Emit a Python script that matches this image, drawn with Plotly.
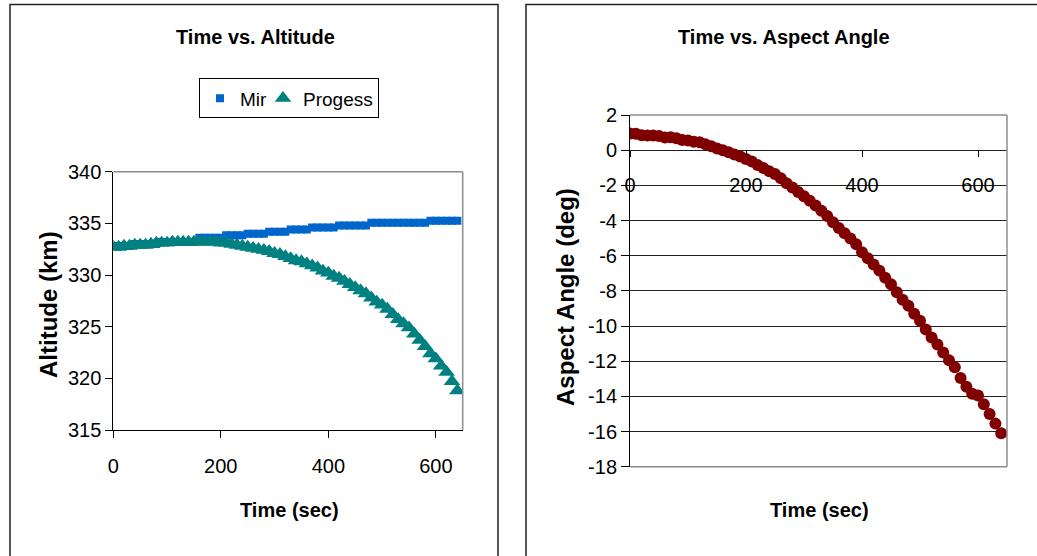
import plotly.graph_objects as go

W, H = 1037, 556

# ---------------- data ----------------
time_sec = [0, 10, 20, 30, 40, 50, 60, 70, 80, 90,
            100, 110, 120, 130, 140, 150, 160, 170, 180, 190,
            200, 210, 220, 230, 240, 250, 260, 270, 280, 290,
            300, 310, 320, 330, 340, 350, 360, 370, 380, 390,
            400, 410, 420, 430, 440, 450, 460, 470, 480, 490,
            500, 510, 520, 530, 540, 550, 560, 570, 580, 590,
            600, 610, 620, 630, 640]

mir_alt = [332.8, 332.8, 332.8, 332.8, 333.0, 333.0, 333.0, 333.0, 333.0, 333.2,
           333.2, 333.2, 333.2, 333.2, 333.2, 333.2, 333.6, 333.6, 333.6, 333.6,
           333.6, 333.85, 333.85, 333.85, 333.85, 334.0, 334.0, 334.0, 334.0, 334.2,
           334.2, 334.2, 334.2, 334.4, 334.4, 334.4, 334.4, 334.6, 334.6, 334.6,
           334.6, 334.6, 334.8, 334.8, 334.8, 334.8, 334.8, 334.8, 335.05, 335.05,
           335.05, 335.05, 335.05, 335.05, 335.05, 335.05, 335.05, 335.05, 335.05, 335.25,
           335.25, 335.25, 335.25, 335.25, 335.25]

progess_alt = [332.7, 332.7, 332.8, 332.8, 332.9, 332.9, 332.9, 333.0, 333.1, 333.1,
               333.1, 333.2, 333.2, 333.2, 333.2, 333.2, 333.2, 333.2, 333.2, 333.2,
               333.1, 333.1, 333.0, 332.9, 332.8, 332.7, 332.6, 332.5, 332.4, 332.3,
               332.1, 332.0, 331.8, 331.6, 331.4, 331.3, 331.1, 330.9, 330.7, 330.4,
               330.2, 329.9, 329.7, 329.4, 329.1, 328.8, 328.5, 328.2, 327.8, 327.4,
               327.1, 326.7, 326.2, 325.7, 325.3, 324.9, 324.3, 323.7, 323.1, 322.4,
               321.9, 321.2, 320.6, 319.7, 318.8]

aspect_deg = [0.95, 0.93, 0.85, 0.83, 0.84, 0.80, 0.72, 0.74, 0.68, 0.58,
              0.55, 0.48, 0.45, 0.33, 0.22, 0.10, 0.00, -0.12, -0.24, -0.36,
              -0.50, -0.65, -0.85, -1.02, -1.20, -1.35, -1.60, -1.88, -2.12, -2.38,
              -2.62, -2.88, -3.15, -3.45, -3.75, -4.10, -4.42, -4.72, -5.02, -5.35,
              -5.80, -6.15, -6.50, -6.85, -7.25, -7.62, -8.08, -8.50, -8.85, -9.30,
              -9.70, -10.20, -10.65, -11.05, -11.50, -11.95, -12.35, -12.95, -13.45, -13.85,
              -13.95, -14.45, -15.00, -15.55, -16.10]

x_ticks = [0, 200, 400, 600]
alt_ticks = [315, 320, 325, 330, 335, 340]
ang_ticks = [2, 0, -2, -4, -6, -8, -10, -12, -14, -16, -18]
ang_tick_text = ["2", "0", "-2", "-4", "-6", "-8", "-10", "-12", "-14", "-16", "-18"]

# ---------------- layout helpers ----------------
def px(x):
    return x / W

def py(y):
    return 1 - y / H

FONT = "Liberation Sans, Arial, sans-serif"
TICKF = dict(family=FONT, size=20, color="black")

fig = go.Figure()

fig.add_trace(go.Scatter(x=time_sec, y=mir_alt, mode="markers", name="Mir",
                         legendwidth=18,
                         marker=dict(symbol="square", size=8, color="#0066CC",
                                     line=dict(width=0)),
                         xaxis="x", yaxis="y"))
fig.add_trace(go.Scatter(x=time_sec, y=progess_alt, mode="markers", name="Progess",
                         marker=dict(symbol="triangle-up", size=14.5, color="#008080",
                                     line=dict(width=0)),
                         xaxis="x", yaxis="y"))
fig.add_trace(go.Scatter(x=time_sec, y=aspect_deg, mode="markers", name="Aspect",
                         showlegend=False,
                         marker=dict(symbol="circle", size=12, color="#800000",
                                     line=dict(width=0)),
                         xaxis="x2", yaxis="y2"))

L = dict(x0=113.3, x1=462.7, y0=171.7, y1=430.0)
R = dict(x0=630.0, x1=1007.0, y0=115.0, y1=466.7)
zero_y = 150.2

fig.update_layout(
    width=W, height=H,
    margin=dict(l=0, r=0, t=0, b=0),
    paper_bgcolor="white", plot_bgcolor="white",
    font=dict(family=FONT, color="black"),
    showlegend=True,
    legend=dict(orientation="h", x=px(289), y=py(78.3), xanchor="center", yanchor="top",
                bordercolor="black", borderwidth=1, bgcolor="white",
                font=dict(family=FONT, size=19, color="black"),
                itemwidth=30, tracegroupgap=0),
    xaxis=dict(domain=[px(L["x0"]), px(L["x1"])], range=[0, 650], tickvals=x_ticks,
               ticks="outside", ticklen=7, tickcolor="black", showline=True,
               linecolor="black", linewidth=1, showgrid=False, zeroline=False,
               tickfont=TICKF, anchor="y", ticklabelstandoff=11, automargin=False),
    yaxis=dict(domain=[py(L["y1"]), py(L["y0"])], range=[315, 340], tickvals=alt_ticks,
               ticks="outside", ticklen=7, tickcolor="black", showline=True,
               linecolor="black", linewidth=1, showgrid=False, zeroline=False,
               tickfont=TICKF, anchor="x", automargin=False),
    xaxis2=dict(domain=[px(R["x0"]), px(R["x1"])], range=[0, 650], tickvals=x_ticks,
                ticks="outside", ticklen=6, tickcolor="black", showline=False,
                showgrid=False, zeroline=False, tickfont=TICKF,
                anchor="free", position=py(zero_y), ticklabelstandoff=11,
                automargin=False),
    yaxis2=dict(domain=[py(R["y1"]), py(R["y0"])], range=[-18, 2], tickvals=ang_ticks,
                ticktext=ang_tick_text, ticks="outside", ticklen=8, tickcolor="black",
                showline=True, linecolor="black", linewidth=1, showgrid=True,
                gridcolor="#222222", gridwidth=1, zeroline=False, tickfont=TICKF,
                anchor="x2", automargin=False),
)

GRAY = "#8c8c8c"
shapes = [
    # outer panel frames (bottom edges fall outside the picture)
    dict(type="rect", xref="paper", yref="paper", x0=px(10), x1=px(498), y0=-0.3, y1=py(4.5),
         line=dict(color="#222222", width=1.5), fillcolor="rgba(0,0,0,0)", layer="below"),
    dict(type="rect", xref="paper", yref="paper", x0=px(526), x1=1.3, y0=-0.3, y1=py(4.5),
         line=dict(color="#222222", width=1.5), fillcolor="rgba(0,0,0,0)", layer="below"),
    # plot-area borders (top / right, and bottom on right chart)
    dict(type="line", xref="x domain", yref="y domain", x0=0, x1=1, y0=1, y1=1,
         line=dict(color=GRAY, width=1.5)),
    dict(type="line", xref="x domain", yref="y domain", x0=1, x1=1, y0=0, y1=1,
         line=dict(color=GRAY, width=1.5)),
    dict(type="line", xref="x2 domain", yref="y2 domain", x0=0, x1=1, y0=1, y1=1,
         line=dict(color=GRAY, width=1.5)),
    dict(type="line", xref="x2 domain", yref="y2 domain", x0=1, x1=1, y0=0, y1=1,
         line=dict(color=GRAY, width=1.5)),
    dict(type="line", xref="x2 domain", yref="y2 domain", x0=0, x1=1, y0=0, y1=0,
         line=dict(color=GRAY, width=1.5)),
]
fig.update_layout(shapes=shapes)

BOLD = dict(family=FONT, size=20, color="black")
BOLDV = dict(family=FONT, size=24, color="black")
ann = [
    dict(text="<b>Time vs. Altitude</b>", x=px(255), y=py(37), font=BOLD),
    dict(text="<b>Time vs. Aspect Angle</b>", x=px(784), y=py(37), font=BOLD),
    dict(text="<b>Time (sec)</b>", x=px(289), y=py(510), font=BOLD),
    dict(text="<b>Time (sec)</b>", x=px(819), y=py(510), font=BOLD),
    dict(text="<b>Altitude (km)</b>", x=px(48), y=py(305), textangle=-90, font=BOLDV),
    dict(text="<b>Aspect Angle (deg)</b>", x=px(565), y=py(297), textangle=-90, font=BOLDV),
]
for a in ann:
    fig.add_annotation(xref="paper", yref="paper", xanchor="center", yanchor="middle",
                       showarrow=False, **a)

fig.write_html("out.html")
